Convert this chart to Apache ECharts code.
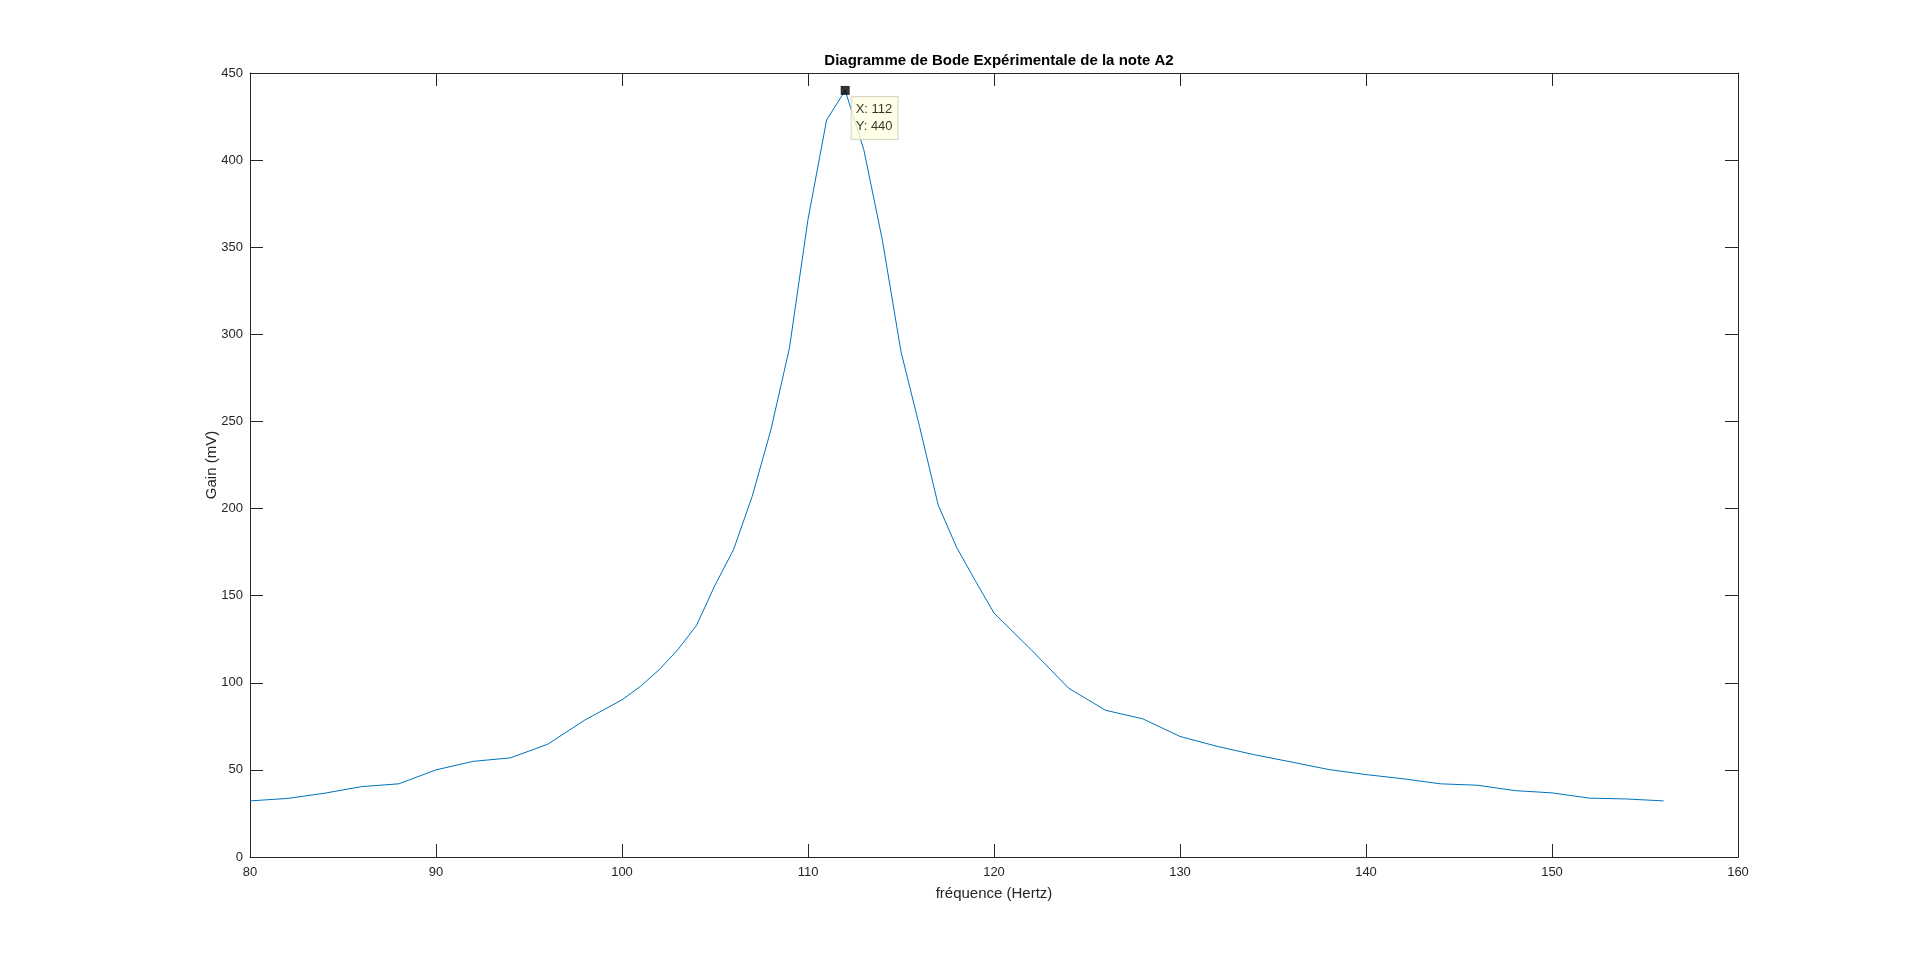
<!DOCTYPE html>
<html>
<head>
<meta charset="utf-8">
<script src="https://cdn.jsdelivr.net/npm/echarts@6/dist/echarts.min.js"></script>
<style>html,body{margin:0;padding:0;background:#fff;}#c{width:1920px;height:963px;}</style>
</head>
<body>
<div id="c"></div>
<script>
const freq = [80,82,84,86,88,90,92,94,96,98,100,101,102,103,104,105,106,107,108,109,110,111,112,113,114,115,116,117,118,119,120,122,124,126,128,130,132,134,136,138,140,142,144,146,148,150,152,154,156];
const gain = [32.2,33.6,36.6,40.4,42,50,54.9,56.9,64.7,78.6,90.2,98,107.5,119,132.8,156,176.5,207,245,292,366,423,440,406,354,290,247,202,177.5,158.5,140,119,97,84.2,79.3,69.2,63.5,58.7,54.5,50.2,47.3,44.9,42,41.2,38.1,36.8,33.8,33.3,32.2];
const tipPoint = [112, 440];
const titleText = 'Diagramme de Bode Expérimentale de la note A2';
const xName = 'fréquence (Hertz)';
const yName = 'Gain (mV)';

const font = 'Liberation Sans, Arial, Helvetica, sans-serif';
const axCol = '#262626';
const chart = echarts.init(document.getElementById('c'));
function axis(extra) {
  return Object.assign({
    type: 'value',
    axisLine: {show: true, onZero: false, lineStyle: {color: axCol, width: 1}},
    axisTick: {show: true, inside: true, length: 13, lineStyle: {color: axCol, width: 1}},
    splitLine: {show: false},
    axisLabel: {color: axCol, fontFamily: font, fontSize: 13}
  }, extra);
}
chart.setOption({
  animation: false,
  backgroundColor: '#ffffff',
  title: {
    text: titleText, left: 994, top: 48, textAlign: 'center',
    textStyle: {fontFamily: font, fontSize: 15, fontWeight: 'bold', color: '#000'}
  },
  grid: {left: 250, right: 182, top: 73, bottom: 106, containLabel: false},
  xAxis: [
    axis({min: 80, max: 160, interval: 10, position: 'bottom',
      name: xName, nameLocation: 'middle', nameGap: 29, nameMoveOverlap: false,
      nameTextStyle: {color: axCol, fontFamily: font, fontSize: 15},
      axisLabel: {color: axCol, fontFamily: font, fontSize: 13, margin: 9}}),
    axis({min: 80, max: 160, interval: 10, position: 'top',
      axisLabel: {show: false}})
  ],
  yAxis: [
    axis({min: 0, max: 450, interval: 50, position: 'left',
      name: yName, nameLocation: 'middle', nameGap: 31, nameMoveOverlap: false,
      nameTextStyle: {color: axCol, fontFamily: font, fontSize: 15},
      axisLabel: {color: axCol, fontFamily: font, fontSize: 13, margin: 7}}),
    axis({min: 0, max: 450, interval: 50, position: 'right',
      axisLabel: {show: false}})
  ],
  series: [
    {
      type: 'line',
      data: freq.map((f, i) => [f, gain[i]]),
      showSymbol: false,
      symbol: 'none',
      lineStyle: {color: '#0072BD', width: 1},
      z: 2
    },
    {
      type: 'scatter',
      data: [tipPoint],
      symbol: 'rect',
      symbolSize: 9,
      itemStyle: {color: '#000'},
      z: 5,
      label: {
        show: true,
        position: [11, 11],
        align: 'left',
        verticalAlign: 'top',
        formatter: p => 'X: ' + p.value[0] + '\nY: ' + p.value[1],
        fontFamily: font,
        fontSize: 13,
        lineHeight: 17,
        color: '#000',
        backgroundColor: '#ffffe1',
        borderColor: '#cfcfbf',
        borderWidth: 1,
        padding: [4, 5, 4, 4]
      }
    }
  ]
});
</script>
</body>
</html>
